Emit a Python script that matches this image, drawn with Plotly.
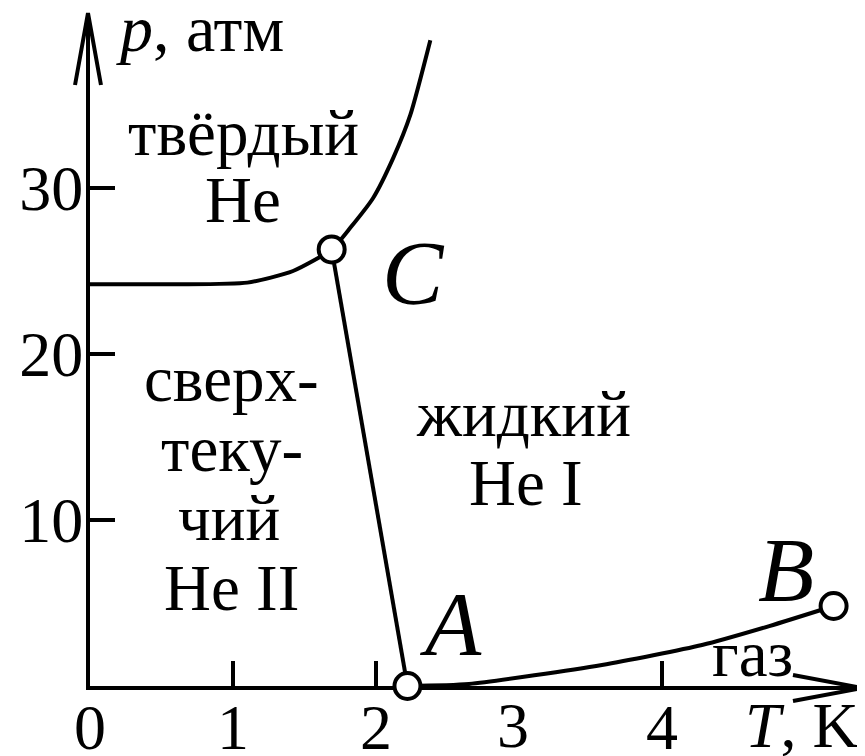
import plotly.graph_objects as go

# Phase diagram of helium-4 (schematic)
melt_T = [0.0, 0.6, 1.10, 1.42, 1.69, 1.82, 1.98, 2.12, 2.24, 2.38]
melt_p = [24.2, 24.2, 24.3, 25.0, 26.3, 27.6, 29.4, 31.8, 34.4, 38.9]

lambda_T = [1.69, 2.22]
lambda_p = [26.3, 0.0]

vapor_T = [2.22, 2.65, 3.58, 4.28, 4.75, 5.20]
vapor_p = [0.0, 0.12, 1.27, 2.47, 3.61, 4.82]

point_T = [1.69, 2.22, 5.20]
point_p = [26.3, 0.0, 4.82]

x_ticks = [0, 1, 2, 4]
y_ticks = [10, 20, 30]

SERIF = "Liberation Serif, Times New Roman, serif"
LW = 4
P_TOP = 673 / 16.6

fig = go.Figure()

for xs, ys in [(melt_T, melt_p), (lambda_T, lambda_p), (vapor_T, vapor_p)]:
    fig.add_trace(
        go.Scatter(
            x=xs,
            y=ys,
            mode="lines",
            line=dict(color="black", width=LW, shape="spline", smoothing=0.6),
            showlegend=False,
            hoverinfo="skip",
            cliponaxis=False,
        )
    )

# triple point C, lambda point A, critical point B
fig.add_trace(
    go.Scatter(
        x=point_T,
        y=point_p,
        mode="markers",
        marker=dict(symbol="circle", size=26, color="white", line=dict(color="black", width=4)),
        showlegend=False,
        hoverinfo="skip",
        cliponaxis=False,
    )
)

labels = [
    ("твёрдый", 1.07, 33.3, 65),
    ("He", 1.07, 29.3, 65),
    ("сверх-", 0.99, 18.5, 65),
    ("теку-", 0.99, 14.3, 65),
    ("чий", 0.97, 10.1, 65),
    ("He II", 0.99, 5.9, 65),
    ("жидкий", 3.03, 16.4, 65),
    ("He I", 3.05, 12.2, 65),
    ("газ", 4.63, 1.9, 65),
    ("<i>p</i>, атм", 0.77, 39.6, 66),
    ("<i>A</i>", 2.52, 3.73, 92),
    ("<i>B</i>", 4.87, 7.0, 92),
    ("<i>C</i>", 2.26, 24.9, 92),
]
for text, x, y, size in labels:
    fig.add_annotation(
        x=x, y=y, text=text, showarrow=False,
        xanchor="center", yanchor="middle",
        font=dict(family=SERIF, size=size, color="black"),
    )

# texts below the T axis (outside the data range, so placed in paper units)
for text, x in [("3", 2.96), ("<i>T</i>, K", 4.98)]:
    fig.add_annotation(
        x=x, y=-2.4 / P_TOP, xref="x", yref="paper", text=text, showarrow=False,
        xanchor="center", yanchor="middle",
        font=dict(family=SERIF, size=64, color="black"),
    )

# open arrow heads at the ends of the axes
fig.add_shape(
    type="path", xref="paper", yref="paper",
    path="M -0.0194 0.893 L -0.0026 1 L 0.0142 0.893",
    line=dict(color="black", width=4),
)
fig.add_shape(
    type="path", xref="paper", yref="paper",
    path="M 0.9106 0.0163 L 1 -0.003 L 0.9106 -0.0223",
    line=dict(color="black", width=4),
)

axis_style = dict(
    ticks="inside",
    ticklen=25,
    tickwidth=4,
    tickcolor="black",
    showline=True,
    linewidth=4,
    linecolor="black",
    showgrid=False,
    zeroline=False,
    automargin=False,
    layer="below traces",
    tickfont=dict(family=SERIF, size=64, color="black"),
)

fig.update_layout(
    width=865,
    height=756,
    # the page body adds an 8 px offset, margins compensate for it
    margin=dict(l=82, r=11, t=5, b=78),
    plot_bgcolor="white",
    paper_bgcolor="white",
    showlegend=False,
    xaxis=dict(range=[0, 772 / 143], tickvals=x_ticks, ticklabelstandoff=-18, **axis_style),
    yaxis=dict(range=[0, P_TOP], tickvals=y_ticks, ticklabelstandoff=-10, **axis_style),
)

fig.write_html("out.html")
